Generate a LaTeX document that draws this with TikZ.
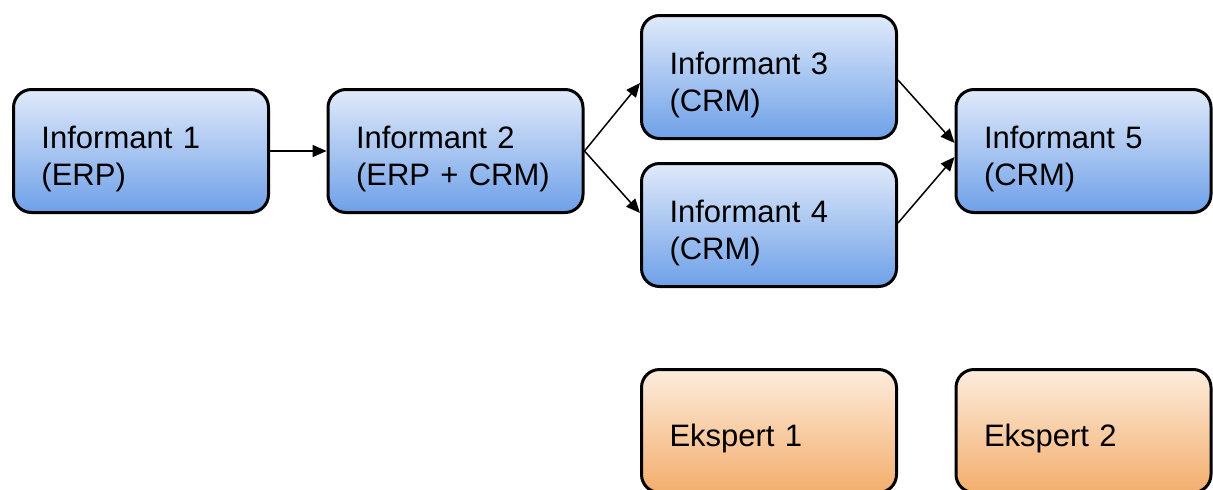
\documentclass[tikz,border=0pt]{standalone}
\usepackage{fontspec}
\setmainfont{Liberation Sans}
\usetikzlibrary{arrows.meta,calc}
\definecolor{bluetop}{RGB}{224,234,250}
\definecolor{bluebot}{RGB}{110,160,232}
\definecolor{orgtop}{RGB}{253,236,221}
\definecolor{orgbot}{RGB}{243,174,108}
\tikzset{
  box/.style={draw=black, line width=3pt, rounded corners=18pt,
    minimum width=255pt, minimum height=123pt, inner xsep=28pt,
    text width=199pt, align=left,
    execute at begin node={\rule{0pt}{38pt}},
    font=\fontsize{31}{37}\selectfont},
  bluebox/.style={box, top color=bluetop, bottom color=bluebot},
  orgbox/.style={box, top color=orgtop, bottom color=orgbot},
  conn/.style={line width=1.5pt, -{Triangle[length=14pt,width=12pt]}}
}
\begin{document}
\begin{tikzpicture}[x=1pt,y=-1pt]
\useasboundingbox (0,0) rectangle (1213,490);
\node[bluebox] (i1) at (141,151) {Informant 1\\(ERP)};
\node[bluebox] (i2) at (455.5,151) {Informant 2\\(ERP + CRM)};
\node[bluebox] (i3) at (769,77) {Informant 3\\(CRM)};
\node[bluebox] (i4) at (769,225) {Informant 4\\(CRM)};
\node[bluebox] (i5) at (1083.5,151) {Informant 5\\(CRM)};
\node[orgbox] (e1) at (769,431) {Ekspert 1};
\node[orgbox] (e2) at (1083.5,431) {Ekspert 2};
\draw[conn] (i1.east) -- (i2.west);
\draw[conn] (i2.east) -- ($(i3.west)+(0,6)$);
\draw[conn] (i2.east) -- ($(i4.west)+(0,-12)$);
\draw[conn] ($(i3.east)+(0,3)$) -- ($(i5.west)+(0,-8)$);
\draw[conn] ($(i4.east)+(0,-2)$) -- ($(i5.west)+(0,6)$);
\end{tikzpicture}
\end{document}
